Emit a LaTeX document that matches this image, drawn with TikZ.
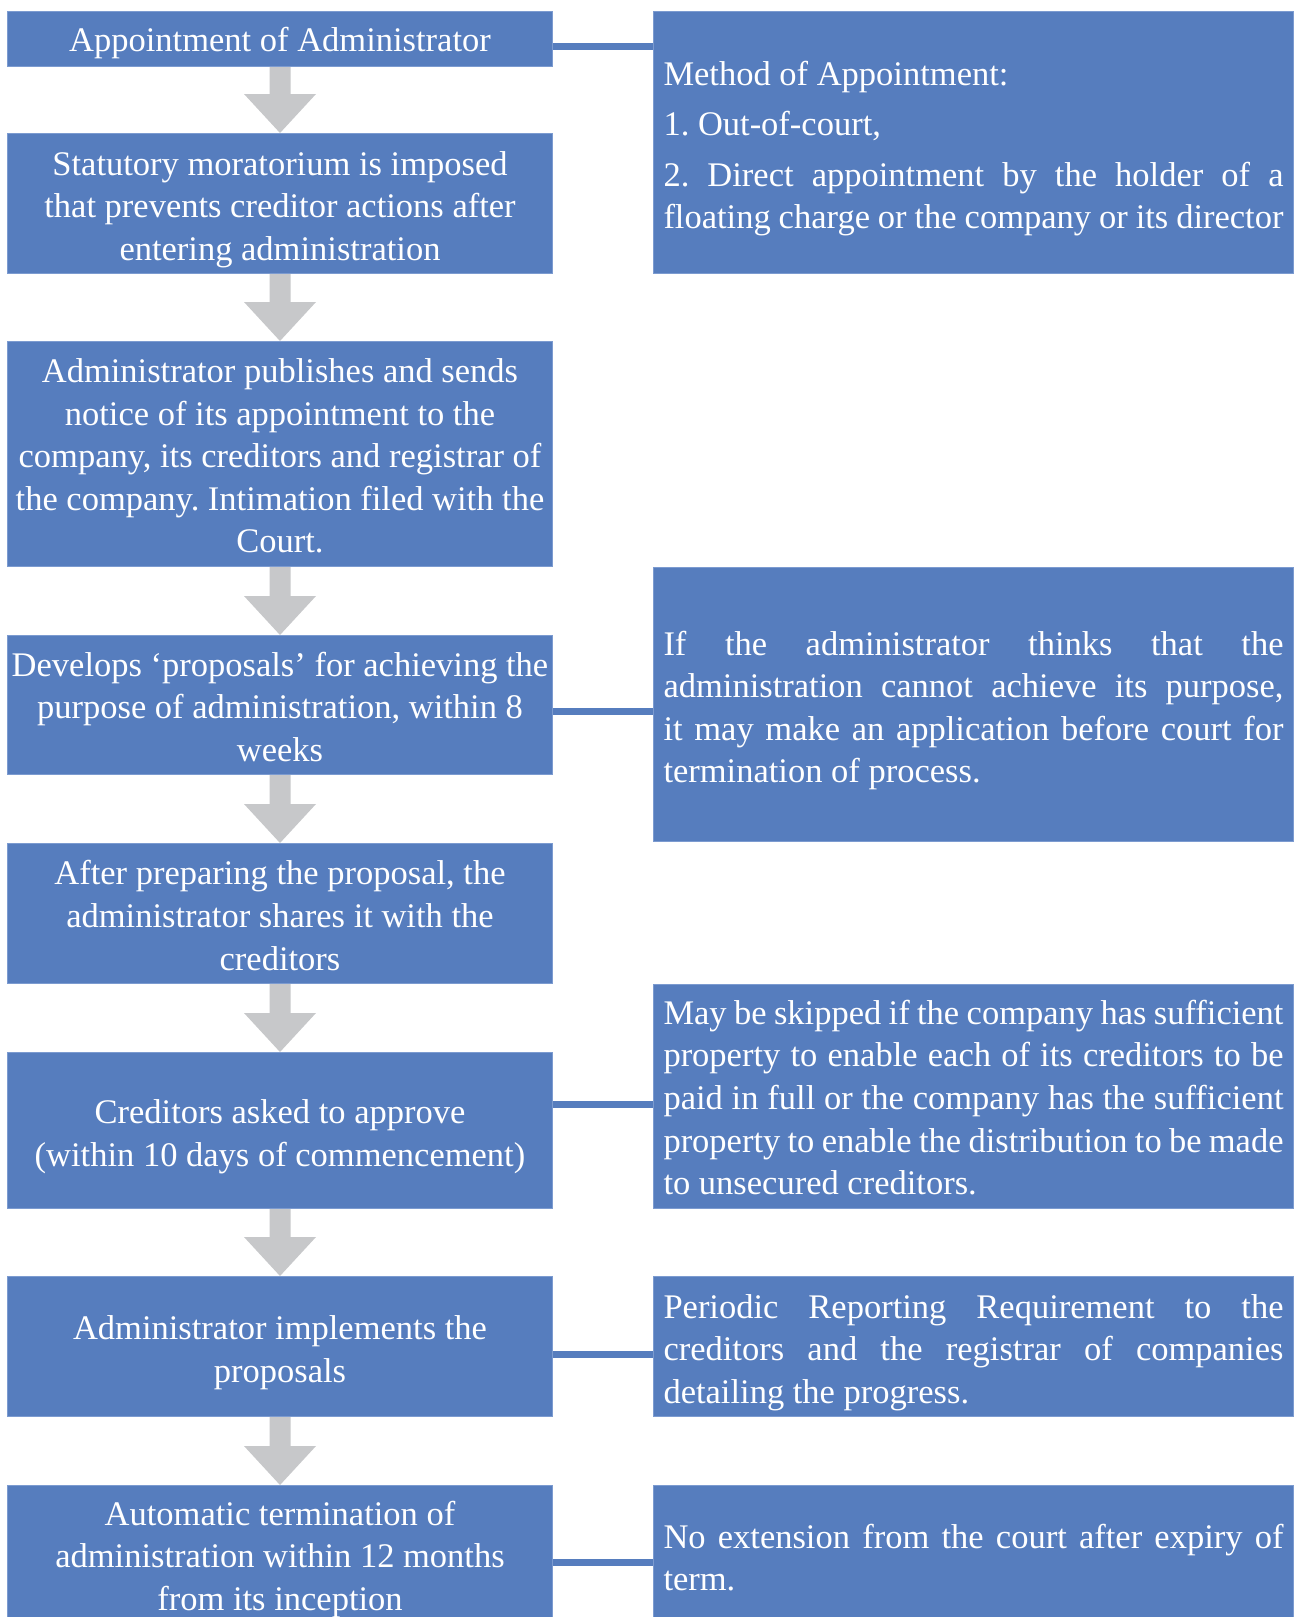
\documentclass[tikz,border=0pt]{standalone}
\usepackage{fontspec}
\setmainfont{Liberation Serif}
\usetikzlibrary{calc}
\definecolor{boxblue}{HTML}{567DBE}
\definecolor{boxedge}{HTML}{7C9BD0}
\definecolor{arrowgray}{HTML}{C7C8CA}
\setlength{\parindent}{0pt}
\hyphenpenalty=10000
\exhyphenpenalty=10000
\frenchspacing
\newcommand\jline[1]{\leavevmode\hbox to \hsize{#1}}
\begin{document}
\begin{tikzpicture}[x=1pt,y=-1pt,
  basebox/.style={fill=boxblue,draw=boxedge,line width=1pt,text=white,
    inner ysep=0pt,anchor=north west,
    font=\fontsize{34.5}{42.6}\selectfont},
  lower/.style={execute at end node={\endgraf\vspace{-#1}}},
  lower/.default=12pt,
  lbox/.style={basebox,inner xsep=0pt,minimum width=545pt,text width=545pt,
    execute at begin node={\centering\spaceskip=0.25em plus 0.1em minus 0.1em\relax}},
  rbox/.style={basebox,inner xsep=10pt,minimum width=640pt,text width=620pt,
    execute at begin node={\raggedright\spaceskip=0.25em plus 0.2em minus 0.1em\relax}},
  link/.style={draw=boxblue,line width=7pt}]
\useasboundingbox (0,0) rectangle (1299,1617);
\clip (0,0) rectangle (1299,1617);
\fill[white] (0,0) rectangle (1299,1617);

% left column
\node[lbox,lower,minimum height=55pt] (b1) at (7,11) {Appointment of Administrator};
\node[lbox,lower,minimum height=140pt] (b2) at (7,133) {Statutory moratorium is imposed\\that prevents creditor actions after\\entering administration};
\node[lbox,lower=4pt,minimum height=225pt] (b3) at (7,341) {Administrator publishes and sends\\notice of its appointment to the\\\mbox{company, its creditors and registrar of}\\\mbox{the company. Intimation filed with the}\\Court.};
\node[lbox,lower=4pt,minimum height=139pt] (b4) at (7,635) {Develops ‘proposals’ for achieving the\\purpose of administration, within 8\\weeks};
\node[lbox,lower=4pt,minimum height=140pt] (b5) at (7,843) {After preparing the proposal, the\\administrator shares it with the\\creditors};
\node[lbox,lower,minimum height=156pt] (b6) at (7,1052) {Creditors asked to approve\\(within 10 days of commencement)};
\node[lbox,lower,minimum height=140pt] (b7) at (7,1276) {Administrator implements the\\proposals};
\node[lbox,lower=6pt,minimum height=142pt] (b8) at (7,1485) {Automatic termination of\\administration within 12 months\\from its inception};

% right column
\node[rbox,lower,minimum height=262pt] (r1) at (653,11) {Method of Appointment:\\[8pt]1. Out-of-court,\\[8pt]\jline{2. Direct appointment by the holder of a}\\\jline{floating charge or the company or its director}};
\node[rbox,lower,minimum height=274pt] (r2) at (653,567) {\jline{If the administrator thinks that the}\\\jline{administration cannot achieve its purpose,}\\\jline{it may make an application before court for}\\termination of process.};
\node[rbox,lower=2pt,minimum height=224pt] (r3) at (653,984) {\jline{May be skipped if the company has sufficient}\\\jline{property to enable each of its creditors to be}\\\jline{paid in full or the company has the sufficient}\\\jline{property to enable the distribution to be made}\\to unsecured creditors.};
\node[rbox,lower,minimum height=140pt] (r4) at (653,1276) {\jline{Periodic Reporting Requirement to the}\\\jline{creditors and the registrar of companies}\\detailing the progress.};
\node[rbox,lower=2pt,minimum height=142pt] (r5) at (653,1485) {\jline{No extension from the court after expiry of}\\term.};

% down arrows
\foreach \a/\b in {b1/b2,b2/b3,b3/b4,b4/b5,b5/b6,b6/b7,b7/b8}{
  \fill[arrowgray] ($(\a.south)+(-10.5,0)$) -- ($(\a.south)+(10.5,0)$)
    -- ($(\b.north)+(10.5,-39)$) -- ($(\b.north)+(36,-39)$) -- (\b.north)
    -- ($(\b.north)+(-36,-39)$) -- ($(\b.north)+(-10.5,-39)$) -- cycle;
}

% side connectors
\draw[link] (b1.east |- 0,46) -- (r1.west |- 0,46);
\draw[link] (b4.east |- 0,711) -- (r2.west |- 0,711);
\draw[link] (b6.east |- 0,1104) -- (r3.west |- 0,1104);
\draw[link] (b7.east |- 0,1354) -- (r4.west |- 0,1354);
\draw[link] (b8.east |- 0,1562) -- (r5.west |- 0,1562);
\end{tikzpicture}
\end{document}
